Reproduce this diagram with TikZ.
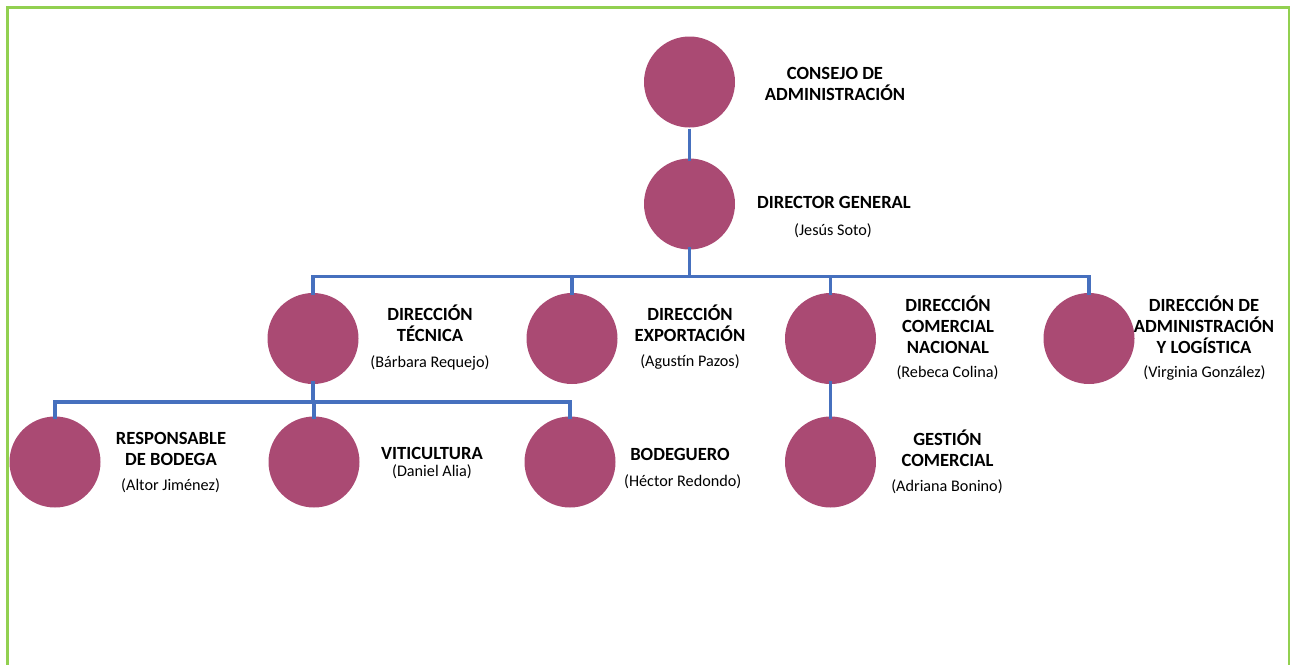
\documentclass[tikz,border=0pt]{standalone}
\usepackage{fontspec}
\setmainfont{Carlito}
\definecolor{circ}{HTML}{AA4A73}
\definecolor{conn}{HTML}{4670BE}
\definecolor{frame}{HTML}{92D050}
\begin{document}
\begin{tikzpicture}[x=1pt,y=-1pt,
  unit/.style={circle,fill=circ,minimum size=91pt,inner sep=0pt},
  title/.style={anchor=base,align=center,inner sep=0pt,font=\fontsize{18.6}{21}\selectfont\bfseries},
  person/.style={anchor=base,align=center,inner sep=0pt,font=\fontsize{16.2}{18}\selectfont},
  link/.style={draw=conn,line width=3.1pt}]
\useasboundingbox (0,0) rectangle (1298,664);
\draw[frame,line width=2.8pt] (7.5,670) -- (7.5,7.5) -- (1289,7.5) -- (1289,670);

% circles
\node[unit] (cons) at (689.5,82) {};
\node[unit] (dg)   at (689.5,204) {};
\node[unit] (tec)  at (313,338.5) {};
\node[unit] (exp)  at (572,338.5) {};
\node[unit] (com)  at (830.5,338.5) {};
\node[unit] (adm)  at (1089,338.5) {};
\node[unit] (res)  at (55,462) {};
\node[unit] (vit)  at (314,462) {};
\node[unit] (bod)  at (570,462) {};
\node[unit] (ges)  at (830.5,462) {};

% texts (base = baseline of the last line)
\node[title] (tcons) at (835,100) {CONSEJO DE\\ADMINISTRACIÓN};
\node[title] (tdg) at (834,208) {DIRECTOR GENERAL};
\node[person] (pdg) at (833,235.6) {(Jesús Soto)};
\node[title] (ttec) at (430,341) {DIRECCIÓN\\TÉCNICA};
\node[person] (ptec) at (430,367.6) {(Bárbara Requejo)};
\node[title] (texp) at (690,341) {DIRECCIÓN\\EXPORTACIÓN};
\node[person] (pexp) at (690,366.6) {(Agustín Pazos)};
\node[title] (tcom) at (948,353) {DIRECCIÓN\\COMERCIAL\\NACIONAL};
\node[person] (pcom) at (947.5,377.6) {(Rebeca Colina)};
\node[title] (tadm) at (1204,353) {DIRECCIÓN DE\\ADMINISTRACIÓN\\Y LOGÍSTICA};
\node[person] (padm) at (1204.5,377.6) {(Virginia González)};
\node[title] (tges) at (947.5,466) {GESTIÓN\\COMERCIAL};
\node[person] (pges) at (947,491.6) {(Adriana Bonino)};
\node[title] (tres) at (171,465.5) {RESPONSABLE\\DE BODEGA};
\node[person] (pres) at (170.6,490.6) {(Altor Jiménez)};
\node[title] (tvit) at (432,459) {VITICULTURA};
\node[person] (pvit) at (432,476.6) {(Daniel Alia)};
\node[title] (tbod) at (680,460) {BODEGUERO};
\node[person] (pbod) at (682.7,486.6) {(Héctor Redondo)};

% connectors
\coordinate (bar1) at (689.5,276.5);
\coordinate (bar2) at (313,402);
\draw[link] ([yshift=-1pt]cons.south) -- ([yshift=-3pt]dg.north);
\draw[link] ([yshift=3pt]dg.south) -- (bar1);
\draw[link] ([yshift=-2pt]tec.north) |- (bar1) -| ([yshift=-2pt]adm.north);
\draw[link] ([yshift=-2pt]exp.north) -- (exp.north |- bar1);
\draw[link] ([yshift=-2pt]com.north) -- (com.north |- bar1);
\draw[link] ([yshift=3pt]tec.south) -- (bar2);
\draw[link] ([yshift=-3pt]res.north) |- (bar2) -| ([yshift=-3pt]bod.north);
\draw[link] ([yshift=-3pt]vit.north) -- (vit.north |- bar2);
\draw[link] ([yshift=3pt]com.south) -- ([yshift=-3pt]ges.north);
\end{tikzpicture}
\end{document}
